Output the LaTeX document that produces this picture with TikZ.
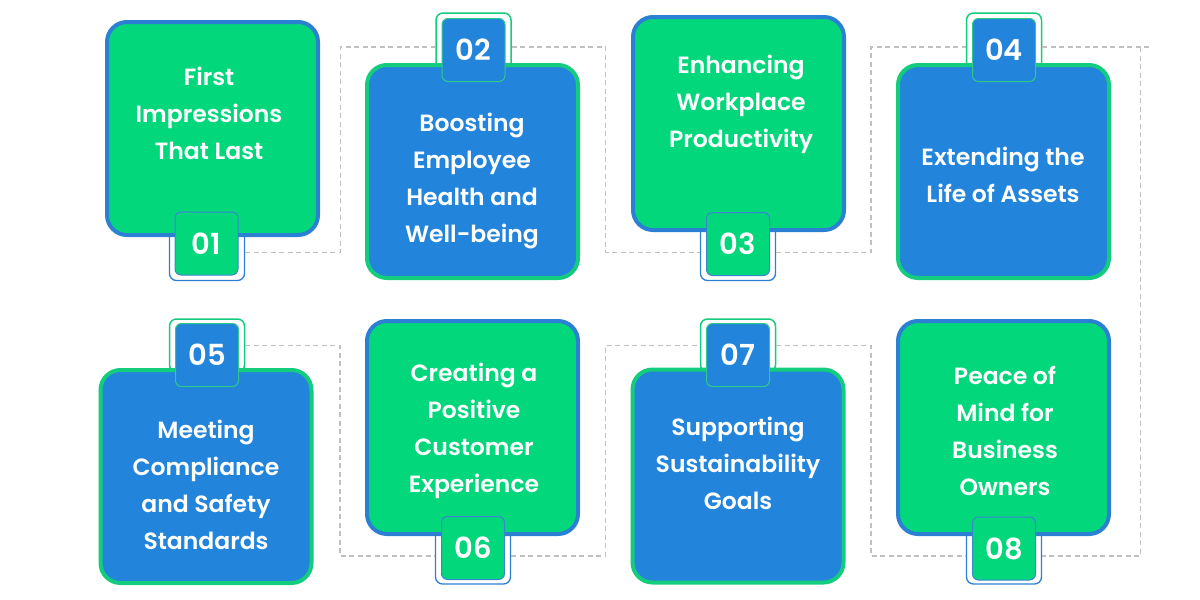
\documentclass[tikz,border=0pt]{standalone}
\usepackage{fontspec}
\setmainfont{Poppins}[BoldFont={Poppins SemiBold}]
\usetikzlibrary{calc}
\definecolor{gfill}{HTML}{03D77B}
\definecolor{bfill}{HTML}{2384DC}
\definecolor{gline}{HTML}{14CC7E}
\definecolor{bline}{HTML}{2C80D4}
\definecolor{gthin}{HTML}{2FC98C}
\definecolor{bthin}{HTML}{3A86D0}
\definecolor{dash}{HTML}{C0C0C0}
\begin{document}
\begin{tikzpicture}[x=1pt,y=-1pt,
  gbox/.style={draw=bline, fill=gfill, line width=4pt, rounded corners=20pt,
    minimum width=211pt, minimum height=213pt, inner sep=0pt},
  bbox/.style={draw=gline, fill=bfill, line width=4pt, rounded corners=20pt,
    minimum width=211pt, minimum height=213pt, inner sep=0pt},
  gbadge/.style={draw=bthin, fill=gfill, line width=1pt, rounded corners=6pt,
    minimum size=63pt, inner sep=0pt, text=white,
    font=\bfseries\fontsize{29}{29}\selectfont},
  bbadge/.style={draw=gthin, fill=bfill, line width=1pt, rounded corners=6pt,
    minimum size=63pt, inner sep=0pt, text=white,
    font=\bfseries\fontsize{29}{29}\selectfont},
  gouter/.style={draw=bline, fill=white, line width=1.3pt, rounded corners=7pt,
    minimum width=75pt, inner sep=0pt},
  bouter/.style={draw=gline, fill=white, line width=1.5pt, rounded corners=7pt,
    minimum width=75pt, inner sep=0pt},
  txt/.style={text=white, align=center, inner sep=0pt,
    font=\bfseries\fontsize{23.5}{37}\selectfont},
  dl/.style={draw=dash, line width=1.3pt, dash pattern=on 5pt off 3.5pt}
]
\useasboundingbox (0,0) rectangle (1200,600);
\fill[white] (0,0) rectangle (1200,600);

% outer badge frames
\node[gouter, minimum height=56pt] (o1) at (207,252.5) {};
\node[bouter, minimum height=68pt] (o2) at (473.5,47) {};
\node[gouter, minimum height=56pt] (o3) at (738,252.5) {};
\node[bouter, minimum height=68pt] (o4) at (1004,47) {};
\node[bouter, minimum height=53pt] (o5) at (207,345.5) {};
\node[gouter, minimum height=56pt] (o6) at (473,556) {};
\node[bouter, minimum height=53pt] (o7) at (738,345.5) {};
\node[gouter, minimum height=56pt] (o8) at (1004,556) {};

% dashed connectors
\draw[dl] (o1.east) -| ($(o1.east)!.5!(o2.west)$) |- (o2.west);
\draw[dl] (o2.east) -| ($(o2.east)!.5!(o3.west)$) |- (o3.west);
\draw[dl] (o3.east) -| ($(o3.east)!.5!(o4.west)$) |- (o4.west);
\draw[dl] (o5.east) -| ($(o5.east)!.5!(o6.west)$) |- (o6.west);
\draw[dl] (o6.east) -| ($(o6.east)!.5!(o7.west)$) |- (o7.west);
\draw[dl] (o7.east) -| ($(o7.east)!.5!(o8.west)$) |- (o8.west);
\coordinate (r4) at ($(o4.east)+(98,0)$);
\draw[dl] (o4.east) -- ++(110,0);
\draw[dl] (r4) |- (o8.east);

% boxes
\node[gbox] (n1) at (212.5,128.5) {};
\node[bbox] (n2) at (472.5,171.5) {};
\node[gbox] (n3) at (738.5,123.5) {};
\node[bbox] (n4) at (1003.5,171.5) {};
\node[bbox] (n5) at (206,476.5) {};
\node[gbox] (n6) at (472.5,427.5) {};
\node[bbox] (n7) at (738,476) {};
\node[gbox] (n8) at (1003.5,427.5) {};

% texts
\node[txt] (t1) at (209,113) {First\\Impressions\\That Last};
\node[txt] (t2) at (472,181) {Boosting\\Employee\\Health and\\Well-being};
\node[txt] (t3) at (741,104) {Enhancing\\Workplace\\Productivity};
\node[txt] (t4) at (1003,175) {Extending the\\Life of Assets};
\node[txt] (t5) at (206,485) {Meeting\\Compliance\\and Safety\\Standards};
\node[txt] (t6) at (474,431) {Creating a\\Positive\\Customer\\Experience};
\node[txt] (t7) at (738,463) {Supporting\\Sustainability\\Goals};
\node[txt] (t8) at (1005,431) {Peace of\\Mind for\\Business\\Owners};

% badges
\node[gbadge] (b1) at (206.5,243.5) {01};
\node[bbadge] (b2) at (473.5,50) {02};
\node[gbadge] (b3) at (738,244) {03};
\node[bbadge] (b4) at (1004,50) {04};
\node[bbadge] (b5) at (207,355) {05};
\node[gbadge] (b6) at (473,548) {06};
\node[bbadge] (b7) at (738,355) {07};
\node[gbadge] (b8) at (1004,548.5) {08};
\end{tikzpicture}
\end{document}
